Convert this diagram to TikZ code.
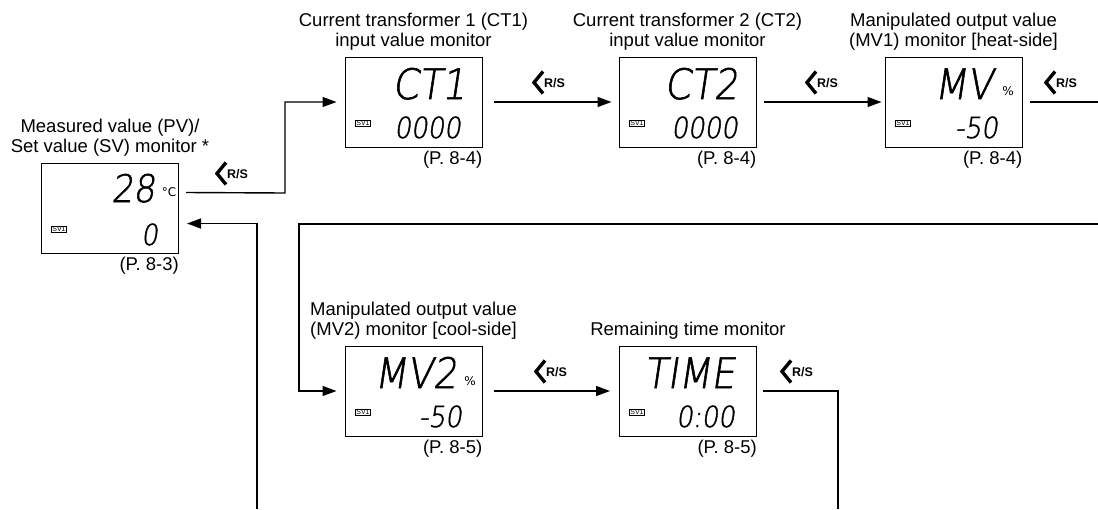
\documentclass[tikz,border=0pt]{standalone}
\usepackage{fontspec}
\setmainfont{Liberation Sans}
\newfontfamily\lcd{DejaVu Sans ExtraLight}[FakeSlant=0.15,FakeStretch=0.9,FakeBold=1.4]
\newfontfamily\lcdu{DejaVu Sans}
\usetikzlibrary{arrows.meta,calc}
\begin{document}
\begin{tikzpicture}[x=1pt,y=-1pt,
 box/.style={draw,line width=1pt,minimum width=137pt,minimum height=90pt,inner sep=0pt},
 ttl/.style={align=center,anchor=south,inner sep=0pt,font=\fontsize{18.5}{19.5}\selectfont},
 pg/.style={anchor=base east,inner sep=0pt,font=\fontsize{18.5}{19}\selectfont},
 conn/.style={line width=1.4pt},
 arr/.style={conn,-{Triangle[length=14pt,width=10pt]}},
 big/.style={anchor=base east,inner sep=0pt,font=\lcd\fontsize{42}{42}\selectfont},
 sml/.style={anchor=base east,inner sep=0pt,font=\lcd\fontsize{29}{29}\selectfont},
 sv/.style={draw,line width=0.6pt,inner sep=0.7pt,font=\fontsize{7}{7}\selectfont},
 rs/.style={anchor=base west,inner sep=0pt,font=\bfseries\fontsize{12.5}{12.5}\selectfont},
 chev/.style={line width=3.4pt,miter limit=10},
 unit/.style={inner sep=0pt,font=\lcdu\fontsize{12}{12}\selectfont}
]
\useasboundingbox (0,0) rectangle (1098,509);

% boxes
\node[box] (pv)  at (110,208) {};
\node[box] (ct1) at (413.5,102) {};
\node[box] (ct2) at (687.5,102) {};
\node[box] (mv1) at (953.5,102) {};
\node[box] (mv2) at (413.5,391) {};
\node[box] (tm)  at (688,391) {};

% titles
\node[ttl] (pvT)  at ([shift={(0,-6)}]pv.north)  {Measured value (PV)/\\Set value (SV) monitor *};
\node[ttl] (ct1T) at ([shift={(0,-6)}]ct1.north) {Current transformer 1 (CT1)\\input value monitor};
\node[ttl] (ct2T) at ([shift={(0,-6)}]ct2.north) {Current transformer 2 (CT2)\\input value monitor};
\node[ttl] (mv1T) at ([shift={(0,-6)}]mv1.north) {Manipulated output value\\(MV1) monitor [heat-side]};
\node[ttl] (mv2T) at ([shift={(0,-6)}]mv2.north) {Manipulated output value\\(MV2) monitor [cool-side]};
\node[ttl] (tmT)  at ([shift={(0,-6)}]tm.north)  {Remaining time monitor};

% page references
\node[pg] (pvP)  at ([shift={(0,17)}]pv.south east)  {(P. 8-3)};
\node[pg] (ct1P) at ([shift={(0,17)}]ct1.south east) {(P. 8-4)};
\node[pg] (ct2P) at ([shift={(0,17)}]ct2.south east) {(P. 8-4)};
\node[pg] (mv1P) at ([shift={(0,17)}]mv1.south east) {(P. 8-4)};
\node[pg] (mv2P) at ([shift={(0,17)}]mv2.south east) {(P. 8-5)};
\node[pg] (tmP)  at ([shift={(0,17)}]tm.south east)  {(P. 8-5)};

% display contents
\node[big,font=\lcd\fontsize{38}{38}\selectfont] (pvA) at (155,202) {28};
\node[unit] (pvU) at (169,192) {°C};
\node[sml] (pvB) at (158,245) {0};
\node[sv] (pvS) at (59,229) {SV1};

\node[big] (ct1A) at (466,99) {CT1};
\node[sml] (ct1B) at (461,138) {0000};
\node[sv] (ct1S) at (363,123) {SV1};

\node[big] (ct2A) at (738,99) {CT2};
\node[sml] (ct2B) at (738,138) {0000};
\node[sv] (ct2S) at (637,123) {SV1};

\node[big] (mv1A) at (993,99) {MV};
\node[unit] (mv1U) at (1008,91) {\%};
\node[sml] (mv1B) at (998,138) {-50};
\node[sv] (mv1S) at (903,123) {SV1};

\node[big] (mv2A) at (457,388) {MV2};
\node[unit] (mv2U) at (470,381) {\%};
\node[sml] (mv2B) at (462,427) {-50};
\node[sv] (mv2S) at (363,412) {SV1};

\node[big] (tmA) at (735,388) {TIME};
\node[sml] (tmB) at (735,427) {0:00};
\node[sv] (tmS) at (637,412) {SV1};

% connector corners
\coordinate (k1) at (285,193);
\coordinate (e1) at (1098,102);
\coordinate (e2) at (1098,224);
\coordinate (k2) at (299,224);
\coordinate (k3) at (838,391);
\coordinate (e3) at (838,509);
\coordinate (r0) at (257,509);

% connectors
\draw[arr] ([shift={(7,30)}]pv.north east) -- (k1) |- ([shift={(-8,0)}]ct1.west);
\draw[arr] ([shift={(11,0)}]ct1.east) -- ([shift={(-7,0)}]ct2.west);
\draw[arr] ([shift={(7,0)}]ct2.east) -- ([shift={(-3,0)}]mv1.west);
\draw[conn] ([shift={(7,0)}]mv1.east) -- (e1);
\draw[arr] (e2) -- (k2) |- ([shift={(-8,0)}]mv2.west);
\draw[arr] ([shift={(11,0)}]mv2.east) -- ([shift={(-9,0)}]tm.west);
\draw[conn] ([shift={(6,0)}]tm.east) -- (k3) -- (e3);
\draw[arr] (r0) |- ([shift={(8,61)}]pv.north east);

% R/S labels
\foreach \n/\p in {r1/{(227,178)},r2/{(544,87)},r3/{(817,87)},r4/{(1056,87)},r5/{(546,376)},r6/{(792,376)}}{
  \node[rs] (\n) at \p {R/S};
  \draw[chev] ($(\n.base west)+(-1,-15.5)$) -- ++(-9,11) -- ++(9,11);
}
\end{tikzpicture}
\end{document}
